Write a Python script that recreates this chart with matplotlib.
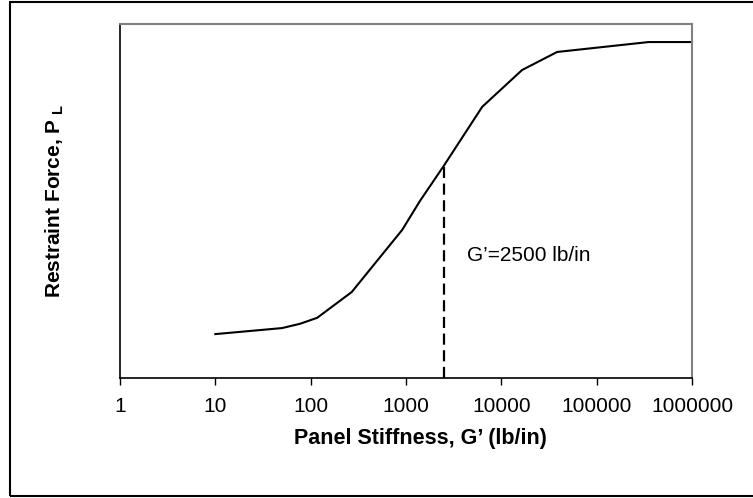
import numpy as np
import matplotlib
matplotlib.use("Agg")
import matplotlib.pyplot as plt
from matplotlib.patches import Rectangle

plt.rcParams['font.family'] = ['Liberation Sans', 'DejaVu Sans']
plt.rcParams['mathtext.fontset'] = 'custom'
plt.rcParams['mathtext.rm'] = 'Liberation Sans'
plt.rcParams['mathtext.bf'] = 'Liberation Sans:bold'

# restraint force curve (relative units)
stiffness = [10, 50, 77, 117, 270, 575, 910, 1400, 2500, 6300, 16500, 38500, 350000, 1000000]
force = [0.124, 0.141, 0.153, 0.170, 0.243, 0.352, 0.418, 0.500, 0.600, 0.766, 0.870, 0.921, 0.949, 0.949]

g_mark = 2500
g_force = 0.600
x_ticks = [1, 10, 100, 1000, 10000, 100000, 1000000]
x_ticklabels = ['1', '10', '100', '1000', '10000', '100000', '1000000']

fig = plt.figure(figsize=(7.53, 4.98), dpi=100)
ax = fig.add_axes([120 / 753, 1 - 378 / 498, 572 / 753, 354 / 498])

ax.plot(stiffness, force, color='black', lw=1.5, clip_on=False)
ax.plot([g_mark, g_mark], [0, g_force], color='black', lw=1.6, linestyle=(0, (5, 2.5)))
ax.text(4400, 0.347, "G\u2019=2500 lb/in", fontsize=15, va='center', ha='left')

ax.set_xscale('log')
ax.set_xlim(1, 1000000)
ax.set_ylim(0, 1)
ax.set_xticks(x_ticks)
ax.set_xticklabels(x_ticklabels, fontsize=15)
ax.xaxis.set_minor_locator(matplotlib.ticker.NullLocator())
ax.set_yticks([])
ax.tick_params(axis='x', length=5, width=1, pad=9, direction='out')

for s in ['top', 'right']:
    ax.spines[s].set_color('#808080')
    ax.spines[s].set_linewidth(1.5)
for s in ['left', 'bottom']:
    ax.spines[s].set_color('black')
    ax.spines[s].set_linewidth(1.2)

ax.set_xlabel("Panel Stiffness, G\u2019 (lb/in)", fontsize=15.5, fontweight='bold')
ax.xaxis.set_label_coords((420 - 120) / 572, (378 - 428) / 354)
ax.set_ylabel(r"Restraint Force, P$_{\ \mathbf{L}}$", fontsize=15, fontweight='bold')
ax.yaxis.set_label_coords((66 - 120) / 572, 0.5)

# outer chart frame
fig.patches.append(Rectangle((10 / 753, 2 / 498), 1.0, 494 / 498, transform=fig.transFigure,
                             fill=False, edgecolor='black', lw=1.5, clip_on=False))

fig.savefig("out.png", dpi=100)
